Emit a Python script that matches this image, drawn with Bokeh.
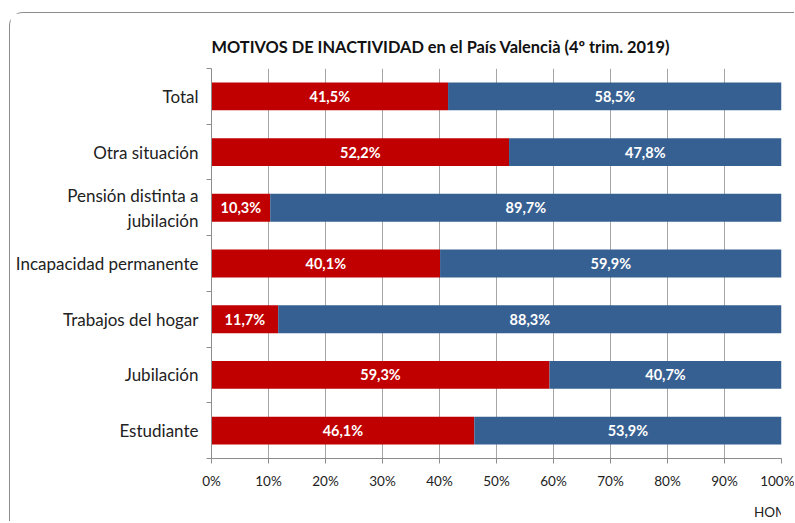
from bokeh.plotting import figure
from bokeh.layouts import column
from bokeh.models import (ColumnDataSource, FixedTicker, NumeralTickFormatter, Title,
                          Legend, LegendItem, LabelSet, Range1d)
from bokeh.core.properties import value
from bokeh.embed import file_html
from bokeh.resources import INLINE

categories = ["Total", "Otra situación", "Pensión distinta a\njubilación",
              "Incapacidad permanente", "Trabajos del hogar", "Jubilación", "Estudiante"]
hombres = [41.5, 52.2, 10.3, 40.1, 11.7, 59.3, 46.1]
mujeres = [58.5, 47.8, 89.7, 59.9, 88.3, 40.7, 53.9]
x_ticks = [0, 10, 20, 30, 40, 50, 60, 70, 80, 90, 100]
series_names = ["HOMBRES", "MUJERES"]

RED = "#C00000"
BLUE = "#376092"
FONT = "Lato"
GRAY = "#8c8c8c"

n = len(categories)
ypos = [n - i - 0.5 for i in range(n)]
h_frac = [v / 100 for v in hombres]
m_frac = [v / 100 for v in mujeres]
src = ColumnDataSource(dict(
    y=ypos,
    h=h_frac,
    m_left=h_frac,
    m_right=[a + b for a, b in zip(h_frac, m_frac)],
    h_mid=[a / 2 for a in h_frac],
    m_mid=[a + b / 2 for a, b in zip(h_frac, m_frac)],
    h_lab=[f"{v:.1f}%".replace(".", ",") for v in hombres],
    m_lab=[f"{v:.1f}%".replace(".", ",") for v in mujeres],
))

p = figure(width=784, height=480,
           x_range=Range1d(0, 1), y_range=Range1d(0, n),
           output_backend="svg", toolbar_location=None,
           min_border_left=201, min_border_right=13, min_border_top=55, min_border_bottom=35)
p.outline_line_color = None

r1 = p.hbar(y="y", left=0, right="h", height=0.5, source=src, color=RED, line_color=None)
r2 = p.hbar(y="y", left="m_left", right="m_right", height=0.5, source=src, color=BLUE, line_color=None)

for xcol, tcol in (("h_mid", "h_lab"), ("m_mid", "m_lab")):
    p.add_layout(LabelSet(x=xcol, y="y", text=tcol, source=src, text_align="center",
                          text_baseline="middle", text_color="white", text_font=value(FONT),
                          text_font_style="bold", text_font_size="14.5px"))

# axes
p.xaxis.ticker = FixedTicker(ticks=[t / 100 for t in x_ticks])
p.xaxis.formatter = NumeralTickFormatter(format="0%")
p.xaxis.major_tick_in = 0
p.xaxis.major_tick_out = 5
p.xaxis.minor_tick_out = 0
p.xaxis.minor_tick_in = 0
p.xaxis.axis_line_color = GRAY
p.xaxis.major_tick_line_color = GRAY
p.xaxis.major_label_text_font = FONT
p.xaxis.major_label_text_font_size = "13.5px"
p.xaxis.major_label_text_color = "#222222"
p.xaxis.major_label_standoff = 9

p.yaxis.ticker = FixedTicker(ticks=ypos, minor_ticks=list(range(n + 1)))
p.yaxis.major_label_overrides = {y: c for y, c in zip(ypos, categories)}
p.yaxis.major_tick_in = 0
p.yaxis.major_tick_out = 0
p.yaxis.minor_tick_in = 0
p.yaxis.minor_tick_out = 5
p.yaxis.axis_line_color = GRAY
p.yaxis.minor_tick_line_color = GRAY
p.yaxis.major_label_text_font = FONT
p.yaxis.major_label_text_font_size = "17px"
p.yaxis.major_label_text_color = "#222222"
p.yaxis.major_label_standoff = 8

p.xgrid.ticker = FixedTicker(ticks=[t / 100 for t in x_ticks])
p.xgrid.grid_line_color = "#a6a6a6"
p.ygrid.grid_line_color = None

title = Title(text="MOTIVOS DE INACTIVIDAD en el País Valencià (4º trim. 2019)",
              align="left", text_font=FONT, text_font_size="16.4px",
              text_font_style="bold", text_color="#111111", standoff=25)
p.add_layout(title, "above")

# legend strip below the chart
p2 = figure(width=784, height=28, x_range=Range1d(0, 1), y_range=Range1d(0, 1),
            x_axis_type=None, y_axis_type=None, output_backend="svg",
            toolbar_location=None, min_border=0)
p2.outline_line_color = None
lr1 = p2.hbar(y=[], left=[], right=[], height=0.5, color=RED, line_color=None)
lr2 = p2.hbar(y=[], left=[], right=[], height=0.5, color=BLUE, line_color=None)
legend = Legend(items=[LegendItem(label=series_names[0], renderers=[lr1]),
                       LegendItem(label=series_names[1], renderers=[lr2])],
                orientation="horizontal", location=(530, 1),
                glyph_width=8, glyph_height=8, label_standoff=5, spacing=14,
                padding=0, margin=0, border_line_color=None,
                label_text_font=FONT, label_text_font_size="13.5px",
                label_text_color="#222222", background_fill_alpha=0)
p2.add_layout(legend, "center")

layout = column(p, p2, spacing=0)
layout.margin = (12, 0, 0, 9)
layout.styles = {"border-top": "1px solid #8c8c8c", "border-left": "1px solid #8c8c8c",
                 "border-top-left-radius": "14px"}

open("out.html", "w").write(file_html(layout, INLINE))
